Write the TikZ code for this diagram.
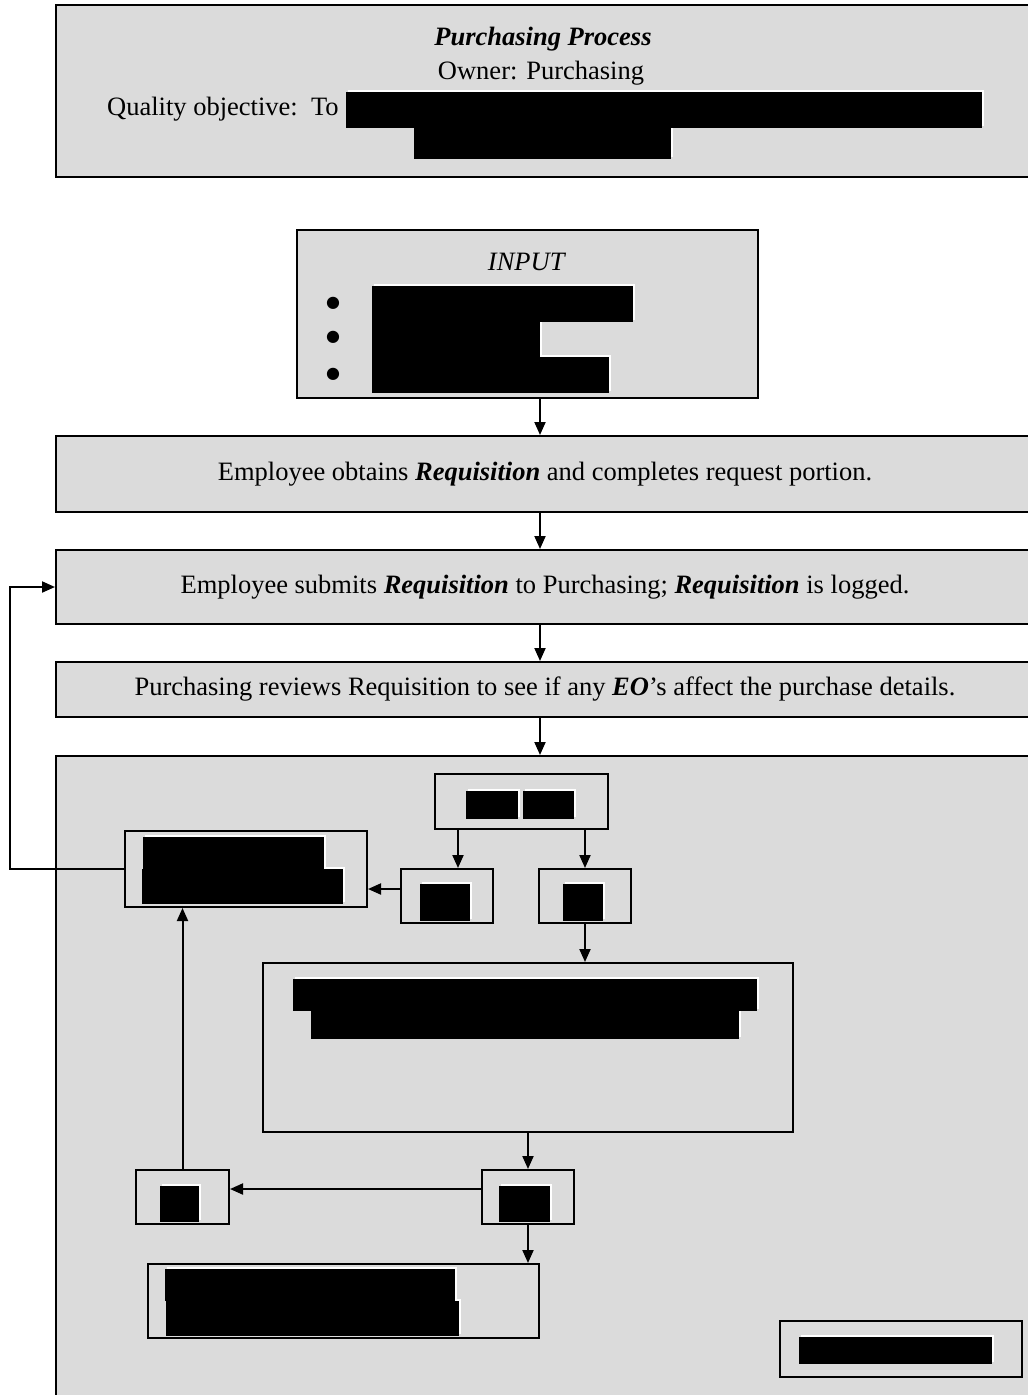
\documentclass[tikz,border=0pt]{standalone}
\usepackage{fontspec}
\setmainfont{Liberation Serif}
\newfontfamily\dotfont{DejaVu Sans}
\usetikzlibrary{arrows.meta}
\usetikzlibrary{positioning}

\tikzset{
  stepbox/.style={draw,line width=2pt,fill=back,inner sep=0pt},
  subbox/.style={draw,line width=2pt,inner sep=0pt},
  flow/.style={-{Triangle[length=13pt,width=11pt]},line width=2pt}
}
% blacked-out text: white edge first, then black
\newcommand{\blackout}[1]{%
  \foreach \xa/\ya/\xb/\yb in {#1} \fill[white] (\xa+2,\ya-2) rectangle (\xb+2,\yb-2);
  \foreach \xa/\ya/\xb/\yb in {#1} \fill[black] (\xa,\ya) rectangle (\xb,\yb);
}

\begin{document}
\begin{tikzpicture}[x=1pt,y=-1pt,font=\fontsize{26.5}{31}\selectfont]
		    \definecolor{back}{rgb}{0.86,0.86,0.86}
		    \useasboundingbox (0,0) rectangle (1028,1395);
		    \clip (0,0) rectangle (1028,1395);
		    \coordinate (spine) at (540,0);
		    \coordinate (bypass) at (10,0);

		    % header
		    \node[stepbox,minimum width=978pt,minimum height=172pt] (header) at (545,91) {};
		    \node[anchor=base] (title) at (543,45) {\textbf{\textit{Purchasing Process}}};
		    \node[anchor=base] (owner) at (541,79) {Owner: Purchasing};
		    \node[anchor=base west,inner sep=0pt] (objective) at (107,115) {Quality objective:\ \ To};
		    \blackout{346/92/982/128, 414/128/671/159}

		    % input
		    \node[stepbox,minimum width=461pt,minimum height=168pt] (inputbox) at (527.5,314) {};
		    \node[anchor=base] (inputtitle) at (527,270) {\textit{INPUT}};
		    \foreach \y [count=\i] in {303,337,374}
		      \node[anchor=base,inner sep=0pt,font=\dotfont\fontsize{16}{16}\selectfont] (bullet\i) at (333,\y+4) {●};
		    \blackout{372/286/633/322, 372/322/540/357, 372/357/609/393}

		    % steps
		    \node[stepbox,minimum width=978pt,minimum height=76pt] (obtain) at (545,474) {Employee obtains \textbf{\textit{Requisition}} and completes request portion.};
		    \node[stepbox,minimum width=978pt,minimum height=74pt] (submit) at (545,587) {Employee submits \textbf{\textit{Requisition}} to Purchasing; \textbf{\textit{Requisition}} is logged.};
		    \node[stepbox,minimum width=978pt,minimum height=55pt] (review) at (545,689.5) {Purchasing reviews Requisition to see if any \textbf{\textit{EO}}'s affect the purchase details.};
		    \node[stepbox,minimum width=978pt,minimum height=700pt] (panel) at (545,1106) {};

		    % decision panel
		    \node[subbox,minimum width=173pt,minimum height=55pt] (decide) at (521,801.5) {};
		    \node[subbox,minimum width=242pt,minimum height=76pt] (hold) at (246,869) {};
		    \node[subbox,minimum width=92pt,minimum height=54pt] (optno) at (447,896) {};
		    \node[subbox,minimum width=92pt,minimum height=54pt] (optyes) at (585,896) {};
		    \node[subbox,minimum width=530pt,minimum height=169pt] (approve) at (528,1047.5) {};
		    \node[subbox,minimum width=92pt,minimum height=54pt] (check) at (528,1197) {};
		    \node[subbox,minimum width=93pt,minimum height=54pt] (reject) at (182.5,1197) {};
		    \node[subbox,minimum width=391pt,minimum height=74pt] (issue) at (343.5,1301) {};
		    \node[subbox,minimum width=242pt,minimum height=56pt] (legend) at (901,1349) {};
		    \blackout{466/791/518/819, 523/791/574/819}
		    \blackout{143/837/324/869, 142/869/343/904}
		    \blackout{420/884/470/921}
		    \blackout{563/884/603/921}
		    \blackout{293/979/757/1011, 311/1011/739/1039}
		    \blackout{499/1186/550/1222}
		    \blackout{160/1186/199/1222}
		    \blackout{165/1269/455/1301, 166/1301/459/1336}
		    \blackout{799/1337/992/1364}

		    \draw[flow] (inputbox.south -| spine) -- (obtain.north -| spine);
		    \draw[flow] (obtain.south -| spine) -- (submit.north -| spine);
		    \draw[flow] (submit.south -| spine) -- (review.north -| spine);
		    \draw[flow] (review.south -| spine) -- (panel.north -| spine);
		    \draw[flow] ([xshift=11pt]optno.north |- decide.south) -- ([xshift=11pt]optno.north);
		    \draw[flow] (optyes.north |- decide.south) -- (optyes.north);
		    \draw[flow] ([yshift=7pt]optno.west) -- ([yshift=7pt]optno.west -| hold.east);
		    \draw[flow] (optyes.south) -- (optyes.south |- approve.north);
		    \draw[flow] (approve.south -| check.north) -- (check.north);
		    \draw[flow] ([yshift=8pt]check.west) -- ([yshift=8pt]check.west -| reject.east);
		    \draw[flow] (reject.north) -- (reject.north |- hold.south);
		    \draw[flow] (check.south) -- (check.south |- issue.north);
		    \draw[flow] (hold.west) -- (hold.west -| bypass) -- (bypass |- submit.west) -- (submit.west);
\end{tikzpicture}
\end{document}
